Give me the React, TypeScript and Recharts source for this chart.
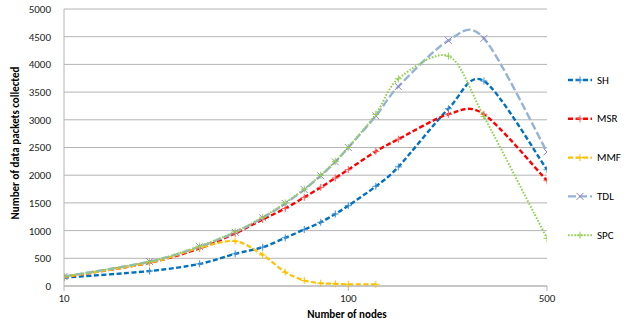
import React from 'react';
import { LineChart, Line, XAxis, YAxis, CartesianGrid } from 'recharts';

// network sizes (log axis) and packets collected per protocol
const nodes = [10, 20, 30, 40, 50, 60, 70, 80, 90, 100, 125, 150, 225, 300, 500];
const mmfNodes = [10, 20, 30, 40, 50, 60, 70, 80, 90, 100, 125];

const shValues = [150, 270, 400, 580, 700, 870, 1020, 1150, 1300, 1450, 1800, 2150, 3200, 3700, 2100];
const msrValues = [160, 420, 680, 950, 1200, 1400, 1600, 1780, 1950, 2100, 2430, 2650, 3100, 3100, 1900];
const mmfValues = [160, 420, 690, 810, 560, 250, 100, 50, 40, 30, 30];
const tdlValues = [170, 440, 710, 970, 1230, 1490, 1740, 1990, 2240, 2500, 3070, 3600, 4430, 4470, 2420];
const spcValues = [170, 440, 720, 980, 1240, 1500, 1750, 2000, 2250, 2500, 3100, 3740, 4150, 3060, 860];

const xTicks = [10, 100, 500];
const yTicks = [0, 500, 1000, 1500, 2000, 2500, 3000, 3500, 4000, 4500, 5000];

const FONT = 'Carlito, "Liberation Sans", Arial, sans-serif';
const GRID = '#b4b4b4';

const toRows = (xs: number[], ys: number[]) => xs.map((n, i) => ({ n, v: ys[i] }));

// Excel-style smoothed line: cardinal bezier through every point
const TENSION = 1 / 6.5;
const smoothCurve = (context: any) => {
  let pts: [number, number][] = [];
  return {
    areaStart() {},
    areaEnd() {},
    lineStart() {
      pts = [];
    },
    point(x: number, y: number) {
      pts.push([+x, +y]);
    },
    lineEnd() {
      if (!pts.length) return;
      context.moveTo(pts[0][0], pts[0][1]);
      for (let i = 0; i < pts.length - 1; i++) {
        const p0 = pts[Math.max(i - 1, 0)];
        const p1 = pts[i];
        const p2 = pts[i + 1];
        const p3 = pts[Math.min(i + 2, pts.length - 1)];
        context.bezierCurveTo(
          p1[0] + (p2[0] - p0[0]) * TENSION,
          p1[1] + (p2[1] - p0[1]) * TENSION,
          p2[0] - (p3[0] - p1[0]) * TENSION,
          p2[1] - (p3[1] - p1[1]) * TENSION,
          p2[0],
          p2[1]
        );
      }
    },
  };
};

type Marker = 'plus' | 'cross';

const markerPath = (kind: Marker, cx: number, cy: number) =>
  kind === 'plus'
    ? `M${cx - 3.5},${cy}h7M${cx},${cy - 3.5}v7`
    : `M${cx - 3.5},${cy - 3.5}l7,7M${cx - 3.5},${cy + 3.5}l7,-7`;

const makeDot = (kind: Marker, color: string) => (props: any) => {
  const { cx, cy, index } = props;
  if (cx == null || cy == null) return <g key={index} />;
  return <path key={index} d={markerPath(kind, cx, cy)} stroke={color} strokeWidth={1} fill="none" />;
};

const series = [
  { name: 'SH', rows: toRows(nodes, shValues), color: '#0070c0', marker: '#3d8fd6', dash: '5 2.5', width: 2.4, kind: 'plus' as Marker },
  { name: 'MSR', rows: toRows(nodes, msrValues), color: '#ff0000', marker: '#ff5a5a', dash: '5 2.5', width: 2.4, kind: 'plus' as Marker },
  { name: 'MMF', rows: toRows(mmfNodes, mmfValues), color: '#ffc000', marker: '#ffc000', dash: '5 2.5', width: 2.2, kind: 'plus' as Marker },
  { name: 'TDL', rows: toRows(nodes, tdlValues), color: '#95b3d7', marker: '#9484c4', dash: '8 3', width: 2.4, kind: 'cross' as Marker },
  { name: 'SPC', rows: toRows(nodes, spcValues), color: '#92d050', marker: '#92d050', dash: '1.6 1.6', width: 2, kind: 'plus' as Marker },
];

const Overlay = () => (
  <svg
    width={629}
    height={326}
    style={{ position: 'absolute', left: 0, top: 0, pointerEvents: 'none' }}
    fontFamily={FONT}
  >
    <text
      transform="translate(15,143) rotate(-90)"
      textAnchor="middle"
      dominantBaseline="central"
      fontSize={11}
      fontWeight="bold"
      fill="#000"
    >
      Number of data packets collected
    </text>
    <text x={347} y={314} textAnchor="middle" dominantBaseline="central" fontSize={11} fontWeight="bold" fill="#000">
      Number of nodes
    </text>
    {series.map((s, i) => {
      const y = 80 + i * 38.8;
      return (
        <g key={s.name}>
          <line x1={568} x2={592} y1={y} y2={y} stroke={s.color} strokeWidth={s.width} strokeDasharray={s.dash} />
          <path d={markerPath(s.kind, 580, y)} stroke={s.marker} strokeWidth={1} fill="none" />
          <text x={597} y={y} dominantBaseline="central" fontSize={11} fill="#000">
            {s.name}
          </text>
        </g>
      );
    })}
  </svg>
);

export default function App() {
  return (
    <div style={{ position: 'absolute', left: 0, top: 0, width: 629, height: 326, background: '#fff' }}>
      <LineChart width={629} height={326} margin={{ top: 9, right: 82, bottom: 0, left: 0 }}>
        <CartesianGrid horizontal vertical={false} stroke={GRID} strokeWidth={1} />
        <XAxis
          type="number"
          dataKey="n"
          scale="log"
          domain={[10, 500]}
          ticks={xTicks}
          allowDataOverflow
          height={40}
          tickSize={5}
          tickMargin={3}
          axisLine={{ stroke: GRID }}
          tickLine={{ stroke: GRID }}
          tick={{ fontSize: 11, fill: '#222', fontFamily: FONT }}
        />
        <YAxis
          type="number"
          domain={[0, 5000]}
          ticks={yTicks}
          width={64}
          tickLine={false}
          tickSize={6}
          tickMargin={7}
          axisLine={{ stroke: GRID }}
          tick={{ fontSize: 11, fill: '#222', fontFamily: FONT }}
        />
        {series.map((s) => (
          <Line
            key={s.name}
            data={s.rows}
            dataKey="v"
            name={s.name}
            type={smoothCurve as any}
            stroke={s.color}
            strokeWidth={s.width}
            strokeDasharray={s.dash}
            dot={makeDot(s.kind, s.marker)}
            activeDot={false}
            isAnimationActive={false}
          />
        ))}
      </LineChart>
      <Overlay />
    </div>
  );
}
